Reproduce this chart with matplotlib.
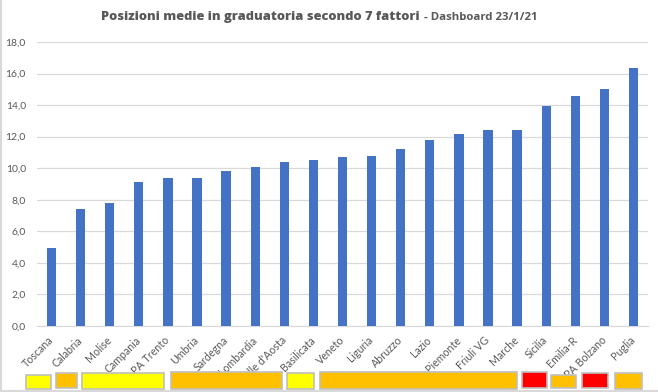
import matplotlib
matplotlib.use("Agg")
import matplotlib.pyplot as plt
from matplotlib.patches import Rectangle
from matplotlib.lines import Line2D
from matplotlib.transforms import blended_transform_factory

plt.rcParams['font.family'] = ['Lato', 'DejaVu Sans']

regions = ["Toscana", "Calabria", "Molise", "Campania", "PA Trento", "Umbria",
           "Sardegna", "Lombardia", "Valle d'Aosta", "Basilicata", "Veneto",
           "Liguria", "Abruzzo", "Lazio", "Piemonte", "Friuli VG", "Marche",
           "Sicilia", "Emilia-R", "PA Bolzano", "Puglia"]
values = [4.95, 7.4, 7.8, 9.1, 9.4, 9.4, 9.85, 10.1, 10.4, 10.55, 10.7,
          10.8, 11.25, 11.8, 12.15, 12.4, 12.4, 13.95, 14.55, 15.0, 16.35]
y_ticks = [0, 2, 4, 6, 8, 10, 12, 14, 16, 18]
y_tick_labels = ["0,0", "2,0", "4,0", "6,0", "8,0", "10,0", "12,0", "14,0", "16,0", "18,0"]

# zone colour boxes under the labels: (x start, x end, colour)
zone_boxes = [(-0.88, -0.01, "#FFFF00"), (0.14, 0.88, "#FFC000"),
              (1.05, 3.88, "#FFFF00"), (4.11, 7.93, "#FFC000"),
              (8.10, 9.02, "#FFFF00"), (9.22, 16.0, "#FFC000"),
              (16.17, 17.03, "#FF0000"), (17.18, 18.03, "#FFC000"),
              (18.24, 19.14, "#FF0000"), (19.36, 20.30, "#FFC000")]
zone_tops = [375, 373.3, 373, 372.3, 372.7, 372.3, 372.3, 375, 373.3, 373.3]
zone_bottoms = [389.3, 388.3, 389, 389.3, 389.3, 389.3, 388.3, 388.3, 388.3, 388.7]

W, H = 658, 392
fig = plt.figure(figsize=(W / 100, H / 100), dpi=100)
ax = fig.add_axes([37 / W, 1 - 326 / H, (648 - 37) / W, (326 - 42) / H])

x = list(range(len(regions)))
ax.bar(x, values, width=0.32, color="#4472C4", zorder=3)
ax.set_xlim(-0.5, len(regions) - 0.5)
ax.set_ylim(0, 18)
ax.set_yticks(y_ticks)
ax.set_yticklabels(y_tick_labels, fontsize=7.5, color="#595959")
ax.yaxis.grid(True, color="#D9D9D9", linewidth=0.9, zorder=0)
ax.tick_params(axis='y', length=0, pad=8)
ax.set_xticks(x)
ax.set_xticklabels(regions, rotation=45, ha='right', va='center',
                   rotation_mode='anchor', fontsize=7.7, color="#595959")
ax.tick_params(axis='x', length=0, pad=9)
for s in ["top", "right", "left"]:
    ax.spines[s].set_visible(False)
ax.spines["bottom"].set_color("#D9D9D9")
ax.spines["bottom"].set_zorder(1)

# title
t1 = fig.text(101 / W, 1 - 17 / H, "Posizioni medie in graduatoria secondo 7 fattori",
              fontsize=9.3, fontweight='heavy', color="#595959", ha='left', va='center',
              family=['Open Sans', 'DejaVu Sans'])
fig.canvas.draw()
bb = t1.get_window_extent(fig.canvas.get_renderer())
fig.text(bb.x1 / W + 4 / W, 1 - 17.5 / H, "- Dashboard 23/1/21", fontsize=8.2,
         fontweight='bold', color="#595959", ha='left', va='center',
         family=['Open Sans', 'DejaVu Sans'])

trans = blended_transform_factory(ax.transData, fig.transFigure)
for (x0, x1, c), top, bot in zip(zone_boxes, zone_tops, zone_bottoms):
    r = Rectangle((x0, 1 - bot / H), x1 - x0, (bot - top) / H, transform=trans,
                  facecolor=c, edgecolor="#BFBFBF", linewidth=1.2, zorder=10,
                  clip_on=False)
    fig.add_artist(r)

# outer frame lines (left and bottom)
fig.add_artist(Line2D([0.8 / W, 0.8 / W], [0, 1], color="#D9D9D9", linewidth=1.5))
fig.add_artist(Line2D([0, 1], [1 - 391 / H, 1 - 391 / H], color="#D9D9D9", linewidth=1.5))

fig.savefig("out.png", dpi=100, facecolor="white")
